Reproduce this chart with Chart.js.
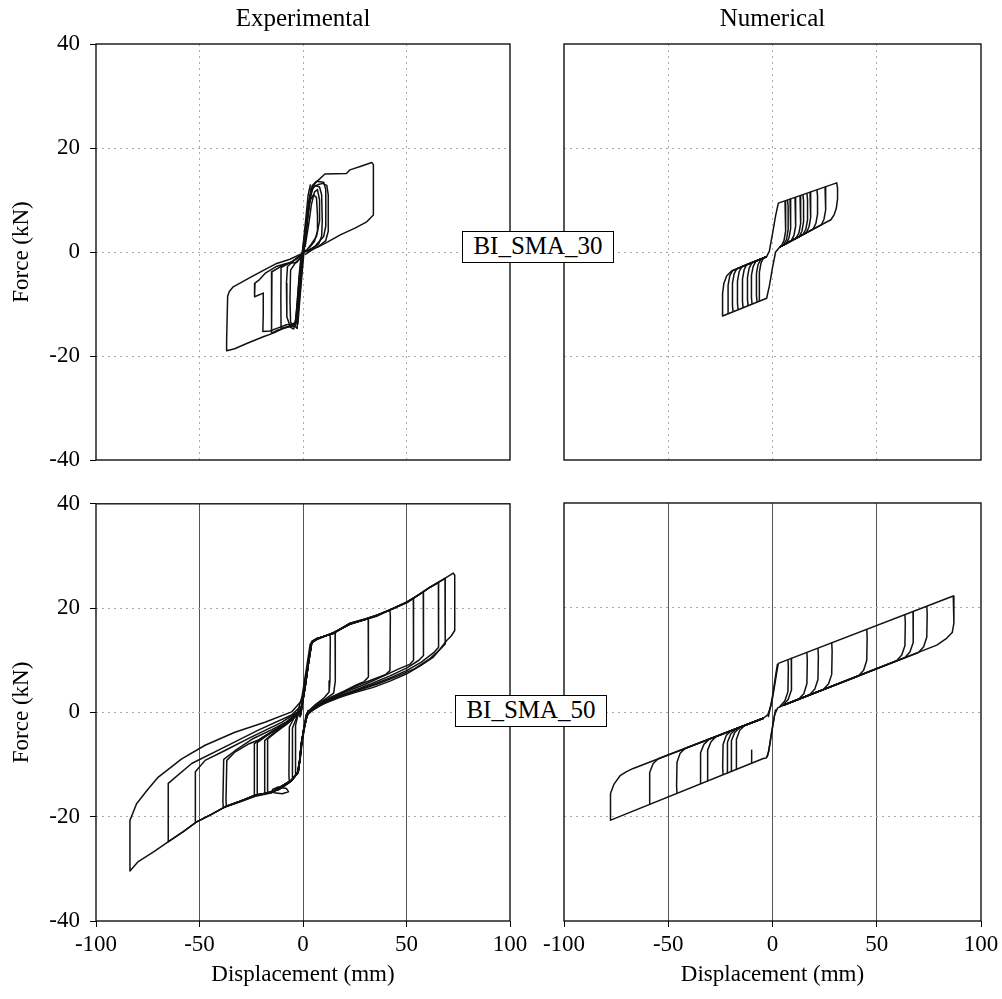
<!DOCTYPE html>
<html>
<head>
<meta charset="utf-8">
<script src="https://cdn.jsdelivr.net/npm/chart.js@4.4.1/dist/chart.umd.min.js"></script>
<style>
  body { margin: 0; background: #fff; width: 1002px; height: 999px; position: relative; overflow: hidden; }
  canvas { position: absolute; }
  .tag {
    position: absolute; z-index: 2; box-sizing: border-box; width: 152px; height: 32px;
    background: #fff; border: 1px solid #000; text-align: center; line-height: 30px;
    font: 25px "Liberation Serif", "Times New Roman", serif; color: #000;
  }
</style>
</head>
<body>
<canvas id="exp30" width="535" height="488" style="left:0;top:0"></canvas>
<canvas id="num30" width="476" height="470" style="left:530px;top:0"></canvas>
<canvas id="exp50" width="535" height="519" style="left:0;top:480px"></canvas>
<canvas id="num50" width="476" height="519" style="left:530px;top:480px"></canvas>
<div class="tag" id="tag30" style="left:462px;top:231px"></div>
<div class="tag" id="tag50" style="left:455px;top:695px"></div>

<script>
const xTickValues = [-100, -50, 0, 50, 100];
const yTickValues = [-40, -20, 0, 20, 40];
const columnTitles = ['Experimental', 'Numerical'];
const specimenTags = ['BI_SMA_30', 'BI_SMA_50'];
const xAxisTitle = 'Displacement (mm)';
const yAxisTitle = 'Force (kN)';

// BI_SMA_30, experimental: [displacement mm, force kN]
const exp30Outer = [[0,0],[1,3],[2,7],[3,10],[4.5,12.5],[6,13.3],[10.6,15],[21,15.1],[22.7,15.8],[28,16.5],[33.2,17.2],[34,16.8],[34,7.1],[30.8,5.8],[25.1,4.6],[18,3.3],[12.2,2],[7.4,1],[1,0.3],[-1,-1],[-2,-5],[-2.6,-10],[-2.8,-14.7],[-4.7,-14],[-9.5,-14.7],[-14.3,-15.6],[-19.2,-16.3],[-27.2,-17.6],[-33,-18.6],[-36.9,-19],[-36.9,-17],[-36.4,-8.5],[-35.6,-7.6],[-33.7,-6.7],[-25,-4.8],[-18,-3.3],[-12.7,-2.2],[-6.3,-1.4],[-0.6,-0.3],[0,0]];
const exp30PosLoops = [
  [[0,0],[2,6],[3.5,10.5],[5,12.5],[7.5,13],[9.5,13.2],[11.5,12.8],[12.2,11],[12.2,4],[11,2.2],[8,1.2],[4,0.3],[1,-0.5]],
  [[0,-1],[2,5],[3,9],[4.2,12],[6,12.8],[8,12.5],[9,11],[9.3,6],[9,3],[7.5,1.5],[4,0.6],[1,0]],
  [[0,0],[2.2,7],[3.5,10],[5,11],[6.5,10.5],[7,7],[7,4],[5.5,2],[3,0.8]],
  [[1,1],[3,6],[4,9],[5.5,11.5],[7,12],[8,10],[8,6],[6.5,3],[4,1.5],[2,0.5]],
  [[-0.5,-0.5],[1.5,5.5],[3,10],[4.5,12.8],[6.5,13.6],[10,13.4],[11,12],[11,5],[10,3],[6,1.2],[2,0]],
  [[-2.5,-14],[-1.5,-9],[0,-2],[1.5,4],[3,10],[4,12.5]],
  [[-3.2,-13.5],[-2,-8],[-0.5,-1],[1,5],[2.5,11],[3.6,13]]
];
const exp30NegLoops = [
  [[-1,-1],[-3,-2],[-8,-2.2],[-13,-2.8],[-18,-4],[-21,-5.3],[-23.2,-6],[-23.4,-8.6],[-19.2,-7.9],[-19.2,-12],[-19.4,-15.3],[-16,-15.2],[-12,-14.6],[-8,-14],[-4,-13.8],[-2.8,-13],[-1.5,-8],[0,-1]],
  [[-1,-0.5],[-5,-1.8],[-10,-2.6],[-15,-3.8],[-15.1,-8],[-15.3,-15.6],[-12,-15],[-8,-14.5],[-4,-14.2],[-2.5,-13],[-1.5,-7],[0,-0.5]],
  [[-1,-0.8],[-6,-2],[-10.6,-3],[-10.7,-9],[-10.6,-14.7],[-7,-14.3],[-3.5,-13.5],[-2.2,-9],[-1,-3]],
  [[-0.5,-0.5],[-4,-1.5],[-7.5,-2.8],[-8,-6],[-7.8,-12.5],[-6,-14.5],[-4.5,-14.8],[-3.5,-13],[-2.5,-8],[-1,-2]],
  [[-1,-1],[-3.5,-2],[-6,-3.5],[-6.3,-9],[-6,-13.5],[-4,-14.3],[-3,-11],[-2,-6]]
];

// BI_SMA_30, numerical
const num30Outer = [[-2.8,-0.9],[-1.5,0.2],[0,3.5],[1.5,7],[2.8,9.4],[30.8,13.3],[31.2,12.3],[31.2,10.2],[30.6,8.4],[29.6,7.2],[28,6.2],[3.6,1],[1.5,0],[0,-3],[-1.5,-6.5],[-2.8,-8.9],[-23.9,-12.3],[-24,-11],[-23.9,-8],[-23.3,-6],[-22,-4.6],[-20,-3.8],[-18.8,-3.5],[-2.8,-0.9]];
const num30PosLoops = [
  [[6,9.8],[6.3,8.6],[6.3,4],[5.5,2.2],[4.2,1.1],[3.6,1]],
  [[7.2,10],[7.5,8.8],[7.5,4.3],[6.7,2.4],[5.4,1.4],[3.6,1]],
  [[8.4,10.2],[8.7,9],[8.7,4.5],[7.9,2.7],[6.6,1.6],[3.6,1]],
  [[10.8,10.5],[11.1,9.3],[11.1,5],[10.3,3.2],[9,2.2],[3.6,1]],
  [[13.2,10.8],[13.5,9.6],[13.5,5.5],[12.7,3.7],[11.4,2.7],[3.6,1]],
  [[14.6,11],[14.9,9.8],[14.9,5.8],[14.1,4],[12.8,2.9],[3.6,1]],
  [[16.5,11.3],[16.8,10.1],[16.8,6.2],[16,4.4],[14.7,3.4],[3.6,1]],
  [[18,11.5],[18.3,10.3],[18.3,6.6],[17.5,4.8],[16.2,3.7],[3.6,1]],
  [[21.3,12],[21.6,10.8],[21.6,7.3],[20.8,5.5],[19.5,4.4],[3.6,1]],
  [[25.2,12.5],[25.5,11.3],[25.5,8.1],[24.7,6.3],[23.4,5.2],[3.6,1]]
];
const num30NegLoops = [
  [[-6,-9.4],[-6.3,-8.2],[-6.3,-3.9],[-5.5,-2.1],[-4.2,-1.1],[-2.8,-0.9]],
  [[-7.4,-9.6],[-7.7,-8.4],[-7.7,-4.1],[-6.9,-2.4],[-5.6,-1.4],[-2.8,-0.9]],
  [[-9.8,-10],[-10.1,-8.8],[-10.1,-4.5],[-9.3,-2.8],[-8,-1.8],[-2.8,-0.9]],
  [[-11.7,-10.3],[-12,-9.1],[-12,-4.9],[-11.2,-3.1],[-9.9,-2.1],[-2.8,-0.9]],
  [[-14.1,-10.7],[-14.4,-9.5],[-14.4,-5.2],[-13.6,-3.4],[-12.3,-2.4],[-2.8,-0.9]],
  [[-16.5,-11.1],[-16.8,-9.9],[-16.8,-5.6],[-16,-3.8],[-14.7,-2.8],[-2.8,-0.9]],
  [[-18.9,-11.5],[-19.2,-10.3],[-19.2,-6],[-18.4,-4.2],[-17.1,-3.2],[-2.8,-0.9]],
  [[-21,-11.8],[-21.3,-10.6],[-21.3,-6.4],[-20.5,-4.6],[-19.2,-3.6],[-2.8,-0.9]]
];

// BI_SMA_50, experimental
const exp50Outer = [[-5.5,0.1],[-0.6,2.3],[1,4.8],[2.6,9.3],[4.2,13.5],[6.6,14.1],[14.6,15.2],[22.7,17],[30,17.8],[35.6,18.6],[43,19.8],[50.1,21.1],[56,22.6],[61.4,24],[67,25.3],[72.6,26.7],[73.3,26.3],[73.3,15.7],[71.5,14.6],[69.4,13.8],[66,12],[63,10.6],[57,9],[50.1,7.4],[42,6],[34,4.8],[25,3.8],[17.9,2.9],[12,2],[6.6,1],[3,0],[1.8,-0.9],[0.5,-3],[-0.8,-6],[-1.5,-9],[-2.3,-11.4],[-5.5,-13],[-15.1,-15.3],[-23.2,-15.9],[-30,-17],[-37.7,-18.1],[-44,-19.5],[-51.4,-21],[-58,-22.9],[-65,-24.8],[-72,-26.7],[-79.6,-28.6],[-83.6,-30.4],[-83.6,-20.7],[-80.4,-17.5],[-75,-14.8],[-69.9,-12.4],[-58.6,-8.9],[-47.3,-6.3],[-32.9,-3.8],[-18.4,-1.9],[-5.5,0.1]];
const exp50PosLoops = [
  [[-1,-0.5],[0.8,4.5],[2.4,9],[4,13.2],[6.5,14],[10,14.5],[13,15],[13.2,14],[13,6],[12.6,3.9],[10,2.7],[6,1.5],[2.5,0.2]],
  [[-1.2,-0.3],[1.1,5],[2.7,9.5],[4.4,13.6],[7,14.2],[11,14.7],[15.5,15.4],[15.7,14.3],[15.5,6],[14.8,3.7],[11,2.6],[6,1.3],[2,-0.2]],
  [[-1.4,-0.6],[0.9,4.6],[2.5,9.1],[4.3,13.4],[7,14.1],[14.6,15.3],[22.7,16.9],[31.5,18],[31.7,16.8],[31.5,6.8],[29.5,5.9],[26,5.3],[20,4.1],[13,2.8],[7,1.4],[2.5,0]],
  [[-1.3,-0.8],[1,4.9],[2.6,9.4],[4.1,13.3],[6.8,14.2],[14.6,15.1],[22.7,17.1],[30,17.9],[36,18.7],[42,19.6],[42.2,18.4],[42,8],[40,7.3],[35,6.5],[27,5.3],[18,3.6],[10,2.2],[4,0.6]],
  [[-1.5,-0.9],[0.9,4.7],[2.5,9.2],[4.2,13.5],[7,14],[14.6,15.3],[22.7,16.9],[30,17.8],[36,18.7],[43,19.9],[50.1,21.2],[53.3,21.9],[53.5,20.6],[53.3,10],[51.5,9.2],[46,8.3],[38,6.8],[30,5.4],[21,4],[12,2.4],[5,0.8]],
  [[-1.4,-0.7],[1,4.8],[2.6,9.3],[4.2,13.6],[6.6,14.2],[14.6,15.1],[22.7,17],[30,17.8],[36,18.5],[43,19.8],[50.1,21],[58.1,23.1],[58.3,21.8],[58.1,10.9],[56,10],[50,8.5],[42,7],[33,5.5],[24,4.1],[15,2.8],[7,1.3],[2,-0.3]],
  [[-1.4,-0.9],[1,4.8],[2.6,9.3],[4.2,13.5],[6.6,14.1],[14.6,15.2],[22.7,17.1],[30,17.9],[36,18.7],[43,19.8],[50.1,21.1],[56,22.6],[61.4,24],[65.4,24.9],[65.6,23.6],[65.4,12.5],[63,11.4],[57,9.6],[50,8],[42,6.6],[33,5.2],[24,4],[15,2.7],[7,1.2],[2,-0.5]],
  [[-1.4,-0.9],[1,4.8],[2.6,9.3],[4.2,13.5],[6.6,14.1],[14.6,15.2],[22.7,17],[30,17.8],[36,18.6],[43,19.8],[50.1,21.1],[56,22.6],[61.4,24],[66,25.1],[68.6,25.7],[68.8,24.4],[68.6,13.1],[66.5,12.2],[61,10.2],[54,8.4],[46,7],[37,5.6],[28,4.4],[19,3.2],[10,1.7],[3,0]],
  [[-3,-0.5],[-0.5,3],[1.5,8],[3.5,13.2]],
  [[2.5,0.5],[0,-4],[-1.2,-8.5],[-2.8,-12]]
];
const exp50NegLoops = [
  [[2,0],[0.6,-3],[-0.7,-6],[-1.6,-9],[-2.5,-11.4],[-3.5,-12],[-3.7,-11],[-3.5,-2.5],[-2.5,-0.6],[-1,1]],
  [[1.8,-0.2],[0.5,-3.2],[-0.8,-6.3],[-1.6,-9.2],[-2.6,-11.6],[-5,-12.6],[-5.2,-11.6],[-5,-3],[-3.5,-1.4],[-1.5,0.2]],
  [[1.5,-0.4],[0.3,-3.4],[-0.9,-6.5],[-1.7,-9.4],[-2.8,-11.8],[-6.6,-13.3],[-6.8,-12.2],[-6.6,-2.8],[-4.5,-1.2],[-1.8,0.5]],
  [[2,-0.3],[0.6,-3.3],[-0.7,-6.4],[-1.5,-9.2],[-2.5,-11.6],[-6,-13.2],[-11,-14.6],[-17,-15.4],[-17.2,-14.2],[-17,-5.1],[-13,-3.8],[-8,-2.3],[-3,-0.6]],
  [[1.8,-0.6],[0.4,-3.1],[-0.8,-6.2],[-1.5,-9.1],[-2.4,-11.5],[-5.5,-13.1],[-10,-14.4],[-15.1,-15.3],[-18.4,-15.6],[-18.6,-14.5],[-18.4,-5.4],[-15,-4.2],[-10,-2.8],[-5,-1.3],[-1,0.8]],
  [[1.6,-0.8],[0.3,-3.2],[-0.9,-6.3],[-1.6,-9.3],[-2.5,-11.6],[-6,-13.3],[-12,-14.9],[-17,-15.4],[-22,-15.8],[-22.2,-14.6],[-22,-5.8],[-18,-4.6],[-12,-3],[-6,-1.4],[-2,0.2]],
  [[1.8,-0.9],[0.5,-3],[-0.8,-6],[-1.5,-9],[-2.3,-11.4],[-5.5,-13],[-12,-14.8],[-18,-15.5],[-23.4,-15.9],[-23.6,-14.8],[-23.4,-6],[-20,-4.9],[-14,-3.4],[-8,-1.9],[-3,-0.3]],
  [[1.8,-0.9],[0.5,-3],[-0.8,-6],[-1.5,-9],[-2.3,-11.4],[-5.5,-13],[-15.1,-15.3],[-23.2,-16],[-30,-17],[-37,-18],[-37.2,-16.8],[-36.8,-9.2],[-32.9,-7.6],[-26,-6],[-21.6,-5.3],[-15,-3.8],[-8.7,-2.5],[-3,-0.6]],
  [[1.7,-1],[0.4,-3.2],[-0.9,-6.2],[-1.6,-9.2],[-2.4,-11.6],[-5.6,-13.1],[-15,-15.4],[-23,-16.1],[-30,-17.1],[-38.5,-18.3],[-38.7,-17],[-38.3,-9],[-33,-7.4],[-24,-5],[-15,-3.3],[-8,-1.8],[-2,0.2]],
  [[1.8,-0.9],[0.5,-3],[-0.8,-6],[-1.5,-9],[-2.3,-11.4],[-5.5,-13],[-15.1,-15.3],[-23.2,-15.9],[-30,-17],[-37.7,-18.1],[-44,-19.5],[-51.9,-21.1],[-52.1,-19.8],[-51.9,-11.4],[-47.3,-9.2],[-37.7,-7.3],[-24.8,-4.7],[-10.3,-1.9],[-3,0]],
  [[1.8,-0.9],[0.5,-3],[-0.8,-6],[-1.5,-9],[-2.3,-11.4],[-5.5,-13],[-15.1,-15.3],[-23.2,-15.9],[-30,-17],[-37.7,-18.1],[-44,-19.5],[-51.4,-21],[-58,-22.9],[-65,-24.8],[-65.2,-23.5],[-65,-13.6],[-53.8,-9.8],[-37.7,-6.6],[-21.6,-3.4],[-5.5,-0.5],[-1,1.2]],
  [[-15,-14.8],[-12,-14.3],[-8,-14.6],[-7,-15.2],[-10,-15.6],[-14,-15.4],[-15,-14.8]]
];

// BI_SMA_50, numerical
const num50Outer = [[-4.4,-1.2],[-2.2,-0.5],[-0.5,1.5],[1,5],[2,7.5],[2.8,9.3],[86.7,22.2],[87,21.5],[87,17],[86.2,15.2],[83.5,14.1],[78.8,12.8],[5.2,1.3],[2.5,0.8],[1,-0.5],[0,-3],[-1.2,-6],[-2.2,-8.2],[-3,-8.8],[-4.4,-8.9],[-77.6,-20.7],[-77.8,-19.5],[-77.6,-15.6],[-76,-13.8],[-73.1,-12.2],[-70,-11.4],[-66.8,-10.8],[-4.4,-1.2]];
const num50PosLoops = [
  [[7.4,10],[7.6,8.5],[7.4,3.9],[5.9,2.1],[3.4,1]],
  [[9,10.3],[9.2,8.8],[9,4.2],[7.5,2.4],[5,1.3]],
  [[16.5,11.4],[16.7,9.9],[16.5,5.4],[15,3.5],[12.5,2.45],[5.2,1.3]],
  [[21.8,12.2],[22,10.7],[21.8,6.2],[20.3,4.4],[17.8,3.3],[5.2,1.3]],
  [[28.4,13.2],[28.6,11.7],[28.4,7.2],[26.9,5.4],[24.4,4.3],[5.2,1.3]],
  [[45.2,15.8],[45.4,14.3],[45.2,9.85],[43.7,8],[41.2,6.9],[5.2,1.3]],
  [[63.5,18.6],[63.7,17.1],[63.5,12.7],[62,10.9],[59.5,9.8],[5.2,1.3]],
  [[67.4,19.2],[67.6,17.7],[67.4,13.3],[65.9,11.5],[63.4,10.4],[5.2,1.3]],
  [[74,20.3],[74.2,18.8],[74,14.35],[72.5,12.5],[70,11.4],[5.2,1.3]],
  [[-2,-1],[0,3],[1.5,7],[2.4,9.2]],
  [[1.5,0.5],[-0.5,-4],[-1.8,-7.5],[-2.8,-8.7]]
];
const num50NegLoops = [
  [[-58.8,-17.6],[-59,-16],[-58.8,-11.6],[-57.3,-9.9],[-54.8,-8.95],[-4.4,-1.2]],
  [[-45.8,-15.6],[-46,-14.1],[-45.8,-9.6],[-44.3,-7.9],[-41.8,-6.95],[-4.4,-1.2]],
  [[-34.4,-13.7],[-34.6,-12.2],[-34.4,-7.8],[-32.9,-6.2],[-30.4,-5.2],[-4.4,-1.2]],
  [[-31,-13.2],[-31.2,-11.7],[-31,-7.3],[-29.5,-5.7],[-27,-4.7],[-4.4,-1.2]],
  [[-23.7,-12],[-23.9,-10.5],[-23.7,-6.2],[-22.2,-4.5],[-19.7,-3.55],[-4.4,-1.2]],
  [[-21.5,-11.7],[-21.7,-10.2],[-21.5,-5.8],[-20,-4.2],[-17.5,-3.2],[-4.4,-1.2]],
  [[-19.6,-11.35],[-19.8,-9.9],[-19.6,-5.5],[-18.1,-3.9],[-15.6,-2.9],[-4.4,-1.2]],
  [[-17.2,-11],[-17.4,-9.5],[-17.2,-5.2],[-15.7,-3.5],[-13.2,-2.55],[-4.4,-1.2]],
  [[-10,-9.8],[-10.1,-8.4],[-9.9,-7.2]]
];

const serif = '"Liberation Serif", "Times New Roman", serif';

// full box around the plot area
const frame = {
  id: 'frame',
  afterDatasetsDraw(chart) {
    const { ctx, chartArea: a } = chart;
    ctx.save();
    ctx.strokeStyle = '#111';
    ctx.lineWidth = 1.4;
    ctx.strokeRect(a.left, a.top, a.right - a.left, a.bottom - a.top);
    ctx.restore();
  }
};

const makePanel = ({ id, loops, title, yLabels, xLabels, solidVertical, padding }) => new Chart(document.getElementById(id), {
  type: 'scatter',
  data: {
    datasets: loops.map(pts => ({
      data: pts,
      showLine: true,
      borderColor: '#111',
      borderWidth: 1.5,
      borderJoinStyle: 'round',
      pointRadius: 0,
      tension: 0
    }))
  },
  options: {
    responsive: false,
    animation: false,
    events: [],
    layout: { padding },
    plugins: {
      legend: { display: false },
      tooltip: { enabled: false },
      title: {
        display: !!title,
        text: title,
        fullSize: false,
        color: '#000',
        font: { family: serif, size: 25, weight: 'normal' },
        padding: { top: 4, bottom: 10 }
      }
    },
    scales: {
      x: {
        type: 'linear',
        min: -100,
        max: 100,
        afterBuildTicks: s => { s.ticks = xTickValues.map(value => ({ value })); },
        afterFit: s => { s.height = xLabels ? 70 : 0; },
        ticks: { display: xLabels, color: '#000', padding: 4, font: { family: serif, size: 23 } },
        grid: {
          color: c => Math.abs(c.tick.value) === 100 ? 'rgba(0,0,0,0)' : (solidVertical ? '#555' : '#aaa'),
          lineWidth: 1,
          drawTicks: xLabels,
          tickLength: 6,
          tickColor: '#000',
          tickBorderDash: []
        },
        border: { display: false, dash: solidVertical ? [] : [2, 4] },
        title: { display: xLabels, text: xAxisTitle, color: '#000', font: { family: serif, size: 23 }, padding: { top: 0, bottom: 2 } }
      },
      y: {
        type: 'linear',
        min: -40,
        max: 40,
        afterBuildTicks: s => { s.ticks = yTickValues.map(value => ({ value })); },
        afterFit: s => { s.width = yLabels ? 96 : 0; },
        ticks: { display: yLabels, color: '#000', padding: 10, font: { family: serif, size: 23 } },
        grid: {
          color: c => Math.abs(c.tick.value) === 40 ? 'rgba(0,0,0,0)' : '#aaa',
          lineWidth: 1,
          drawTicks: yLabels,
          tickLength: 6,
          tickColor: '#000',
          tickBorderDash: []
        },
        border: { display: false, dash: [2, 4] },
        title: { display: yLabels, text: yAxisTitle, color: '#000', font: { family: serif, size: 23 }, padding: { top: 8, bottom: 0 } }
      }
    }
  },
  plugins: [frame]
});

makePanel({
  id: 'exp30', title: columnTitles[0], yLabels: true, xLabels: false, solidVertical: false,
  loops: [exp30Outer, ...exp30PosLoops, ...exp30NegLoops],
  padding: { left: 0, top: 0, right: 25, bottom: 28 }
});
makePanel({
  id: 'num30', title: columnTitles[1], yLabels: false, xLabels: false, solidVertical: false,
  loops: [num30Outer, ...num30PosLoops, ...num30NegLoops],
  padding: { left: 34, top: 0, right: 25, bottom: 10 }
});
makePanel({
  id: 'exp50', title: '', yLabels: true, xLabels: true, solidVertical: true,
  loops: [exp50Outer, ...exp50PosLoops, ...exp50NegLoops],
  padding: { left: 0, top: 23, right: 25, bottom: 8 }
});
makePanel({
  id: 'num50', title: '', yLabels: false, xLabels: true, solidVertical: true,
  loops: [num50Outer, ...num50PosLoops, ...num50NegLoops],
  padding: { left: 34, top: 23, right: 25, bottom: 8 }
});

document.getElementById('tag30').textContent = specimenTags[0];
document.getElementById('tag50').textContent = specimenTags[1];
</script>
</body>
</html>
